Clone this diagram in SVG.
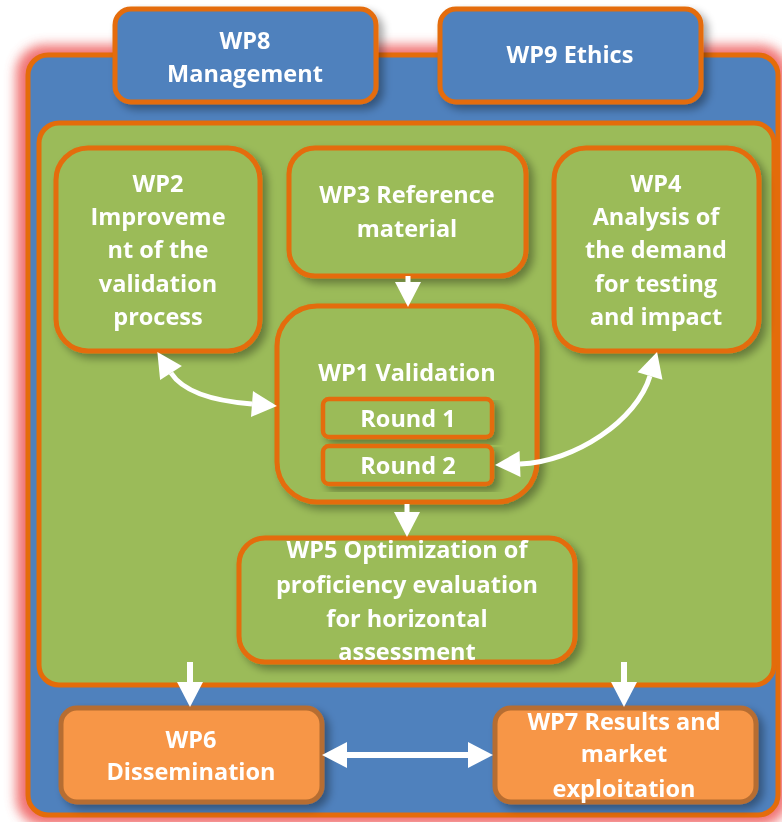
<svg xmlns="http://www.w3.org/2000/svg" width="782" height="822" viewBox="0 0 782 822">
<defs>
<filter id="glow" x="-10%" y="-10%" width="120%" height="120%"><feGaussianBlur stdDeviation="6"/></filter>
<filter id="sh" x="-10%" y="-10%" width="130%" height="130%">
<feGaussianBlur in="SourceAlpha" stdDeviation="4"/>
<feOffset dx="5" dy="5" result="b"/>
<feComponentTransfer><feFuncA type="linear" slope="0.35"/></feComponentTransfer>
<feMerge><feMergeNode/><feMergeNode in="SourceGraphic"/></feMerge>
</filter>
<marker id="ah" markerUnits="userSpaceOnUse" markerWidth="26" markerHeight="26" refX="0" refY="13" orient="auto-start-reverse" overflow="visible">
<path d="M0,0 L25,13 L0,26 z" fill="#ffffff"/>
</marker>
</defs>
<style>
.blue{fill:#4f81bd;stroke:#e46c0a;stroke-width:5}
.green{fill:#9bbb59;stroke:#e46c0a;stroke-width:5}
.round{fill:#9bbb59;stroke:#e46c0a;stroke-width:4.5}
.orange{fill:#f79646;stroke:#b66d31;stroke-width:5}
text{font-family:"Open Sans","Liberation Sans",sans-serif;font-weight:700;font-size:23.5px;fill:#ffffff;text-anchor:middle}
.arr{fill:none;stroke:#ffffff;stroke-width:5}
.arrv{fill:none;stroke:#ffffff;stroke-width:6}
</style>

<g id="outer">
<rect x="16" y="45" width="772" height="781" rx="28" fill="#ee5a5a" opacity="0.85" filter="url(#glow)"/>
<rect class="blue" x="28" y="55" width="750" height="760" rx="20"/>
</g>
<g id="wp8" filter="url(#sh)">
<rect class="blue" x="115" y="9" width="261" height="93" rx="16"/>
<text x="245" y="49">WP8</text>
<text x="245" y="82">Management</text>
</g>
<g id="wp9" filter="url(#sh)">
<rect class="blue" x="440" y="9" width="261" height="93" rx="16"/>
<text x="570" y="63">WP9 Ethics</text>
</g>
<g id="container">
<rect class="green" x="39" y="123" width="735" height="562" rx="20"/>
</g>
<g id="wp2" filter="url(#sh)">
<rect class="green" x="56" y="148" width="204" height="203" rx="32"/>
<text x="158" y="192">WP2</text>
<text x="158" y="225">Improveme</text>
<text x="158" y="258">nt of the</text>
<text x="158" y="292">validation</text>
<text x="158" y="325">process</text>
</g>
<g id="wp3" filter="url(#sh)">
<rect class="green" x="289" y="148" width="237" height="128" rx="26"/>
<text x="407" y="203">WP3 Reference</text>
<text x="407" y="237">material</text>
</g>
<g id="wp4" filter="url(#sh)">
<rect class="green" x="554" y="148" width="205" height="203" rx="32"/>
<text x="656" y="192">WP4</text>
<text x="656" y="225">Analysis of</text>
<text x="656" y="258">the demand</text>
<text x="656" y="292">for testing</text>
<text x="656" y="325">and impact</text>
</g>
<g id="wp1" filter="url(#sh)">
<rect class="green" x="277" y="306" width="260" height="196" rx="40"/>
<text x="407" y="381">WP1 Validation</text>
</g>
<g id="round1" filter="url(#sh)">
<rect class="round" x="323" y="399" width="169" height="38" rx="6"/>
<text x="408" y="427">Round 1</text>
</g>
<g id="round2" filter="url(#sh)">
<rect class="round" x="323" y="446" width="169" height="38" rx="6"/>
<text x="408" y="474">Round 2</text>
</g>
<g id="wp5" filter="url(#sh)">
<rect class="green" x="239" y="538" width="336" height="124" rx="26"/>
<text x="407" y="558">WP5 Optimization of</text>
<text x="407" y="593">proficiency evaluation</text>
<text x="407" y="627">for horizontal</text>
<text x="407" y="660">assessment</text>
</g>
<g id="wp6" filter="url(#sh)">
<rect class="orange" x="61" y="708" width="261" height="94" rx="16"/>
<text x="191" y="748">WP6</text>
<text x="191" y="780">Dissemination</text>
</g>
<g id="wp7" filter="url(#sh)">
<rect class="orange" x="495" y="708" width="261" height="94" rx="16"/>
<text x="624" y="730">WP7 Results and</text>
<text x="624" y="762">market</text>
<text x="624" y="797">exploitation</text>
</g>

<g id="connectors">
<path class="arr" d="M408,276 L408,282" marker-end="url(#ah)"/>
<path class="arr" d="M407,504 L407,512" marker-end="url(#ah)"/>
<path class="arrv" d="M190,662 L190,682" marker-end="url(#ah)"/>
<path class="arrv" d="M624,662 L624,682" marker-end="url(#ah)"/>
<path class="arrv" d="M347,755 L468,755" marker-start="url(#ah)" marker-end="url(#ah)"/>
<path class="arr" d="M171,373 C186,396 226,402 252,404" marker-start="url(#ah)" marker-end="url(#ah)"/>
<path class="arr" d="M650,376 C637,420 575,462 520,464" marker-start="url(#ah)" marker-end="url(#ah)"/>
</g>
</svg>
